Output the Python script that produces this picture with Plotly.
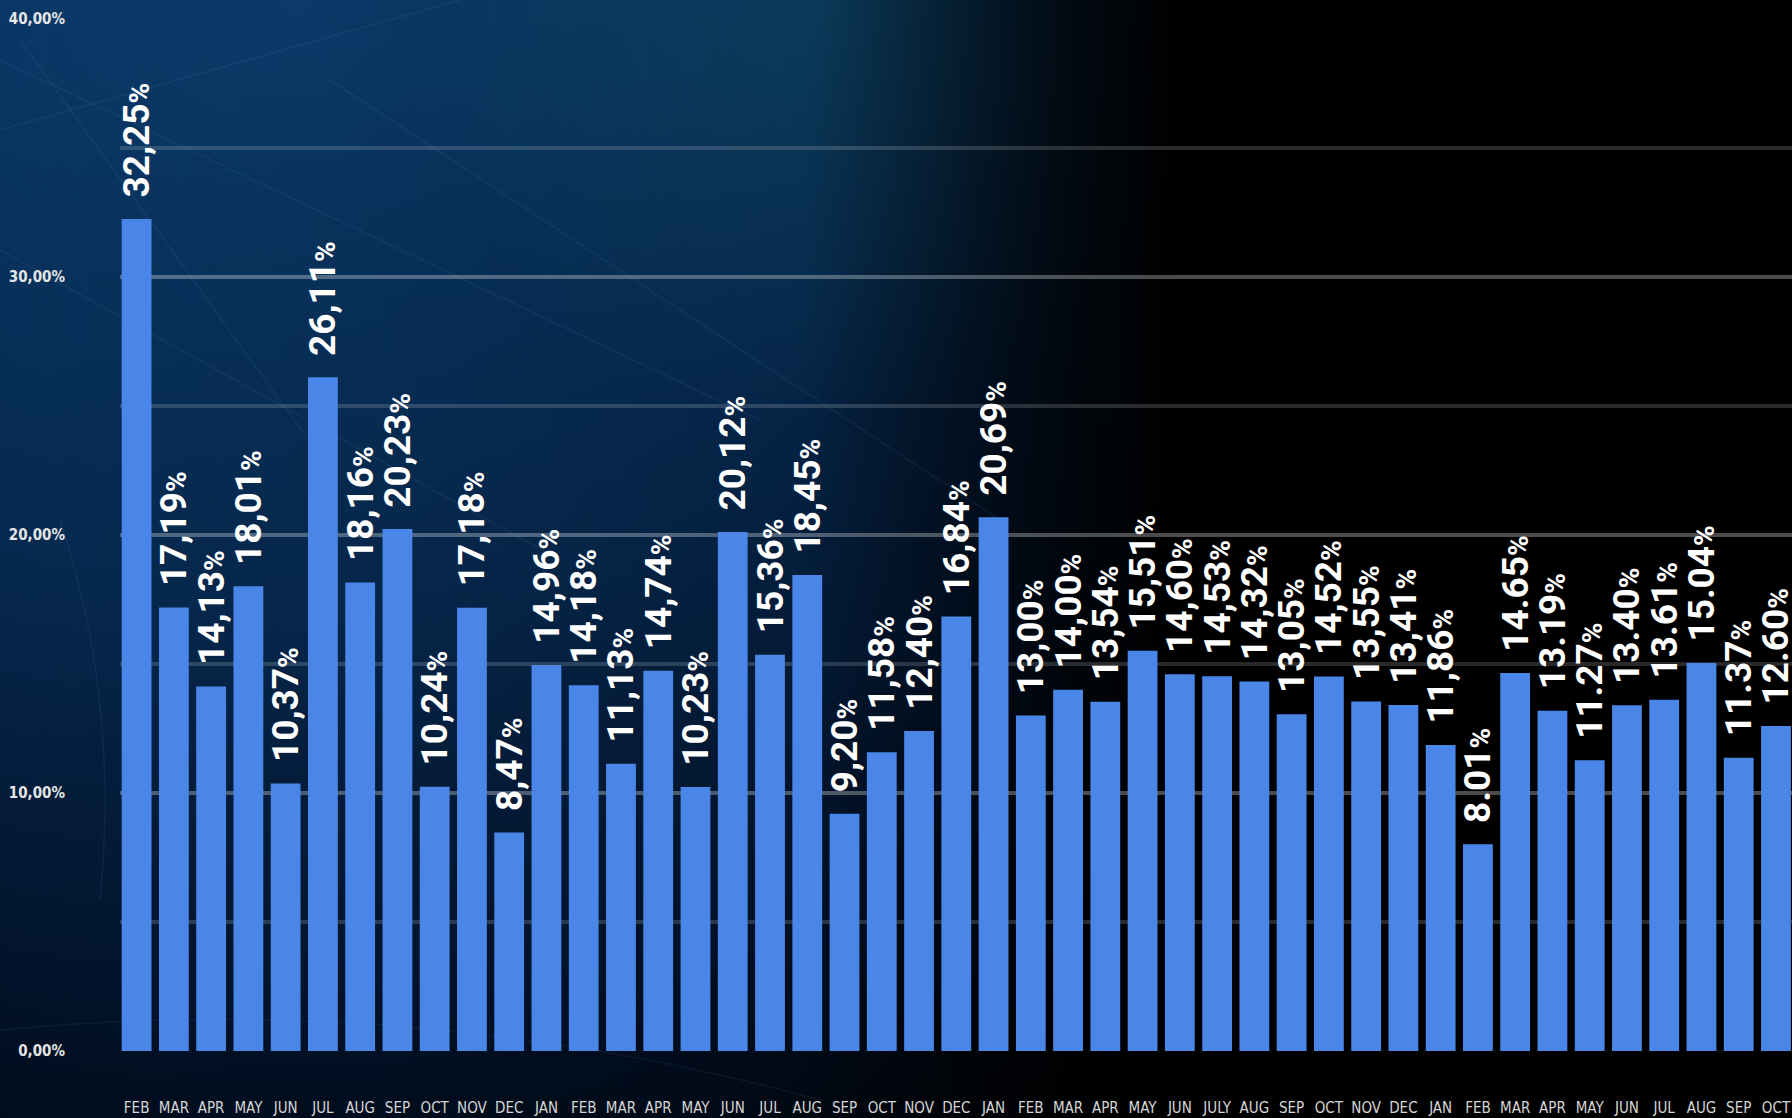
import base64
import plotly.graph_objects as go

# ---- data ----
months = ["FEB", "MAR", "APR", "MAY", "JUN", "JUL", "AUG", "SEP", "OCT", "NOV", "DEC",
          "JAN", "FEB", "MAR", "APR", "MAY", "JUN", "JUL", "AUG", "SEP", "OCT", "NOV", "DEC",
          "JAN", "FEB", "MAR", "APR", "MAY", "JUN", "JULY", "AUG", "SEP", "OCT", "NOV", "DEC",
          "JAN", "FEB", "MAR", "APR", "MAY", "JUN", "JUL", "AUG", "SEP", "OCT"]
values = [32.25, 17.19, 14.13, 18.01, 10.37, 26.11, 18.16, 20.23, 10.24, 17.18, 8.47,
          14.96, 14.18, 11.13, 14.74, 10.23, 20.12, 15.36, 18.45, 9.20, 11.58, 12.40, 16.84,
          20.69, 13.00, 14.00, 13.54, 15.51, 14.60, 14.53, 14.32, 13.05, 14.52, 13.55, 13.41,
          11.86, 8.01, 14.65, 13.19, 11.27, 13.40, 13.61, 15.04, 11.37, 12.60]
value_labels = ["32,25", "17,19", "14,13", "18,01", "10,37", "26,11", "18,16", "20,23",
                "10,24", "17,18", "8,47", "14,96", "14,18", "11,13", "14,74", "10,23",
                "20,12", "15,36", "18,45", "9,20", "11,58", "12,40", "16,84", "20,69",
                "13,00", "14,00", "13,54", "15,51", "14,60", "14,53", "14,32", "13,05",
                "14,52", "13,55", "13,41", "11,86", "8.01", "14.65", "13.19", "11.27",
                "13.40", "13.61", "15.04", "11.37", "12.60"]
y_tick_values = [0, 10, 20, 30, 40]
y_tick_labels = ["0,00%", "10,00%", "20,00%", "30,00%", "40,00%"]

positions = list(range(len(months)))

W, H = 1792, 1118
ML, MR, MT, MB = 120, 0, 19, 67
PW, PH = W - ML - MR, H - MT - MB

# ---- background (decorative) ----
svg = f'''<svg xmlns="http://www.w3.org/2000/svg" width="{W}" height="{H}" viewBox="0 0 {W} {H}">
<defs>
<radialGradient id="rg" gradientUnits="userSpaceOnUse" cx="300" cy="0" r="1350">
 <stop offset="0" stop-color="#0b3d6e"/>
 <stop offset="0.45" stop-color="#07305c"/>
 <stop offset="0.75" stop-color="#031a3a"/>
 <stop offset="1" stop-color="#000000"/>
</radialGradient>
<radialGradient id="glow" gradientUnits="userSpaceOnUse" cx="820" cy="0" r="420">
 <stop offset="0" stop-color="#125676" stop-opacity="0.55"/>
 <stop offset="1" stop-color="#125676" stop-opacity="0"/>
</radialGradient>
<linearGradient id="hg" x1="0" y1="0" x2="1" y2="0">
 <stop offset="0" stop-color="#000" stop-opacity="0"/>
 <stop offset="0.45" stop-color="#000" stop-opacity="0.15"/>
 <stop offset="0.6" stop-color="#000" stop-opacity="0.8"/>
 <stop offset="0.66" stop-color="#000" stop-opacity="1"/>
 <stop offset="1" stop-color="#000" stop-opacity="1"/>
</linearGradient>
<linearGradient id="vg" x1="0" y1="0" x2="0" y2="1">
 <stop offset="0" stop-color="#000" stop-opacity="0"/>
 <stop offset="0.6" stop-color="#000814" stop-opacity="0.2"/>
 <stop offset="1" stop-color="#000814" stop-opacity="0.45"/>
</linearGradient>
</defs>
<rect width="{W}" height="{H}" fill="#000"/>
<rect width="{W}" height="{H}" fill="url(#rg)"/>
<rect width="{W}" height="{H}" fill="url(#glow)"/>
<rect width="{W}" height="{H}" fill="url(#vg)"/>
<rect width="{W}" height="{H}" fill="url(#hg)"/>
<g stroke="#9cc8f0" stroke-opacity="0.07" stroke-width="1.5" fill="none">
 <line x1="0" y1="60" x2="760" y2="420"/>
 <line x1="0" y1="250" x2="560" y2="560"/>
 <line x1="20" y1="40" x2="330" y2="470"/>
 <line x1="0" y1="130" x2="460" y2="0"/>
 <line x1="330" y1="80" x2="1000" y2="520"/>
 <path d="M0,1030 Q420,990 820,1100"/>
 <path d="M60,520 Q120,700 100,900"/>
</g>
</svg>'''
bg_src = "data:image/svg+xml;base64," + base64.b64encode(svg.encode()).decode()

bar_text = ["\u00a0\u00a0" + t + "<span style='font-size:28px'>%</span>" for t in value_labels]

fig = go.Figure()
fig.add_trace(go.Bar(
    x=positions,
    y=values,
    text=bar_text,
    textposition="outside",
    textangle=-90,
    constraintext="none",
    cliponaxis=False,
    textfont=dict(family="Roboto", size=37, color="#ffffff", weight="bold"),
    marker=dict(color="#4a86e8", line=dict(width=0)),
    hoverinfo="skip",
))

grid_col = "rgba(255,255,255,0.16)"
fig.update_layout(
    width=W, height=H,
    margin=dict(l=ML, r=MR, t=MT, b=MB, pad=0),
    paper_bgcolor="#000000",
    plot_bgcolor="rgba(0,0,0,0)",
    bargap=0.2,
    showlegend=False,
    images=[dict(
        source=bg_src, xref="paper", yref="paper",
        x=-ML / PW, y=1 + MT / PH, sizex=W / PW, sizey=H / PH,
        xanchor="left", yanchor="top", sizing="stretch", layer="below",
    )],
)
fig.update_xaxes(
    range=[-0.446, len(months) - 1 + 0.43],
    tickmode="array", tickvals=positions, ticktext=months,
    tickangle=0,
    showgrid=False, zeroline=False, showline=False, ticks="",
    ticklabelstandoff=46,
    tickfont=dict(family="DejaVu Sans Condensed, Liberation Sans Narrow, Roboto, sans-serif",
                  size=15, color="#d6d6d6"),
)
fig.update_yaxes(
    range=[0, 40],
    tickmode="array", tickvals=y_tick_values, ticktext=y_tick_labels,
    showgrid=True, gridcolor=grid_col, gridwidth=3.5,
    minor=dict(dtick=5, tick0=0, showgrid=True, gridcolor=grid_col, gridwidth=3.5),
    zeroline=False, showline=False, ticks="",
    ticklabelstandoff=54,
    tickfont=dict(family="DejaVu Sans Condensed, Liberation Sans Narrow, Roboto, sans-serif",
                  size=15, color="#e6e6e6", weight="bold"),
)

fig.write_html("out.html",
               config={"displayModeBar": False},
               post_script="document.body.style.margin='0';document.body.style.overflow='hidden';")
